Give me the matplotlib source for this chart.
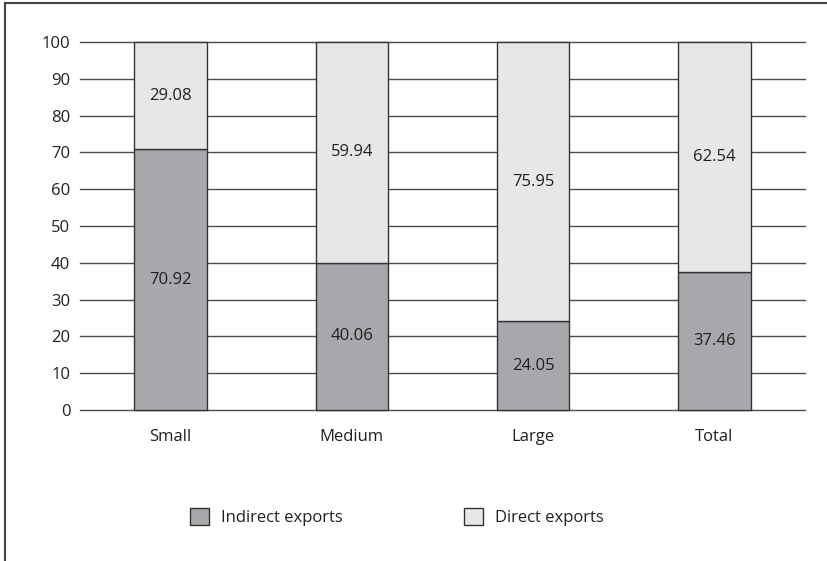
import matplotlib
matplotlib.use("Agg")
import matplotlib.pyplot as plt
from matplotlib.patches import Patch
from matplotlib.lines import Line2D

categories = ["Small", "Medium", "Large", "Total"]
indirect = [70.92, 40.06, 24.05, 37.46]
direct = [29.08, 59.94, 75.95, 62.54]
yticks = [0, 10, 20, 30, 40, 50, 60, 70, 80, 90, 100]

DARK = "#a7a8ab"
LIGHT = "#e6e7e8"
EDGE = "#333333"
GRID = "#4d4d4d"
TXT = "#231f20"

plt.rcParams["font.family"] = ["Open Sans", "DejaVu Sans"]
FS = 12

fig = plt.figure(figsize=(8.27, 5.61), dpi=100)
ax = fig.add_axes([80 / 827, 1 - 410 / 561, (805 - 80) / 827, (410 - 42) / 561])

x = list(range(len(categories)))
w = 0.4
ax.bar(x, indirect, width=w, color=DARK, edgecolor=EDGE, linewidth=1.0, zorder=3,
       clip_on=False)
ax.bar(x, direct, width=w, bottom=indirect, color=LIGHT, edgecolor=EDGE,
       linewidth=1.0, zorder=3, clip_on=False)

for i in x:
    ax.text(i, indirect[i] / 2, f"{indirect[i]:.2f}", ha="center", va="center",
            fontsize=FS, color=TXT, zorder=4)
    ax.text(i, indirect[i] + direct[i] / 2, f"{direct[i]:.2f}", ha="center",
            va="center", fontsize=FS, color=TXT, zorder=4)

for t in yticks:
    ax.axhline(t, color=GRID, linewidth=1.0, zorder=1, clip_on=False)

ax.set_xlim(-0.5, 3.5)
ax.set_ylim(0, 100)
ax.set_yticks(yticks)
ax.set_xticks(x)
ax.set_xticklabels(categories)
ax.tick_params(axis="both", length=0, labelsize=FS, labelcolor=TXT)
ax.tick_params(axis="y", pad=7)
ax.tick_params(axis="x", pad=14)
for s in ax.spines.values():
    s.set_visible(False)

handles = [Patch(facecolor=DARK, edgecolor=EDGE, linewidth=1.0, label="Indirect exports"),
           Patch(facecolor=LIGHT, edgecolor=EDGE, linewidth=1.0, label="Direct exports")]
fig.legend(handles=handles, loc="center left", bbox_to_anchor=(190 / 827, 1 - 517 / 561),
           ncol=2, frameon=False, fontsize=FS, handlelength=1.15, handleheight=1.15,
           handletextpad=0.7, columnspacing=7.3, borderpad=0, borderaxespad=0,
           labelcolor=TXT)

# Outer frame (top and left edges)
fig.add_artist(Line2D([4.5 / 827, 4.5 / 827], [0, 1 - 2.5 / 561], transform=fig.transFigure,
                      color="#444444", linewidth=1.5))
fig.add_artist(Line2D([4.5 / 827, 1], [1 - 2.5 / 561, 1 - 2.5 / 561], transform=fig.transFigure,
                      color="#444444", linewidth=1.5))

fig.savefig("out.png", dpi=100)
